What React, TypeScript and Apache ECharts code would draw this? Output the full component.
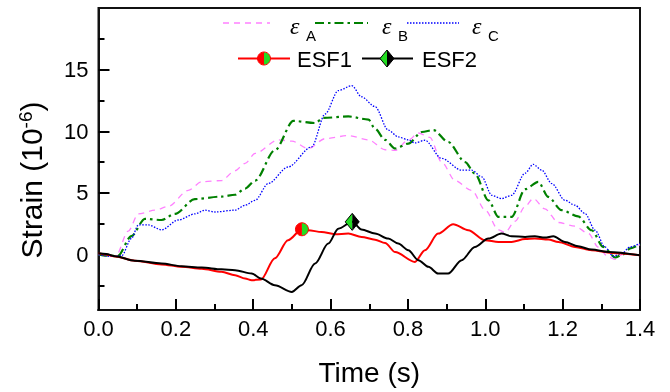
import React, { useEffect, useRef } from "react";
import * as echarts from "echarts";

// ε_A (pink dashed)
const timeA = [0, 0.02, 0.045, 0.077, 0.103, 0.146, 0.18, 0.232, 0.267, 0.318, 0.353, 0.379, 0.405, 0.465, 0.5, 0.542, 0.586, 0.646, 0.698, 0.741, 0.767, 0.801, 0.827, 0.857, 0.887, 0.922, 0.965, 1.0, 1.034, 1.051, 1.077, 1.103, 1.124, 1.154, 1.189, 1.232, 1.267, 1.292, 1.318, 1.336, 1.353, 1.375, 1.4];
const strainA = [0, -0.1, -0.1, 1.9, 3.3, 3.6, 3.9, 5.2, 5.9, 6.0, 6.8, 7.4, 8.2, 9.3, 9.2, 8.6, 9.4, 9.65, 9.3, 8.5, 8.45, 9.27, 9.86, 9.5, 7.5, 6.0, 5.2, 3.6, 2.0, 1.8, 2.7, 3.9, 4.55, 3.7, 2.6, 2.3, 1.7, 0.6, -0.2, -0.4, 0.0, 0.5, 0.8];

// ε_B (green dash-dot)
const timeB = [0, 0.02, 0.05, 0.085, 0.12, 0.163, 0.198, 0.249, 0.318, 0.353, 0.379, 0.405, 0.456, 0.504, 0.56, 0.581, 0.646, 0.698, 0.715, 0.741, 0.767, 0.801, 0.836, 0.866, 0.904, 0.948, 0.973, 1.008, 1.034, 1.068, 1.103, 1.137, 1.163, 1.197, 1.24, 1.275, 1.305, 1.336, 1.355, 1.375, 1.4];
const strainB = [0, -0.1, -0.1, 1.5, 2.9, 2.8, 3.3, 4.5, 4.7, 4.85, 5.35, 6.0, 8.46, 10.84, 10.67, 11.08, 11.2, 10.95, 10.2, 9.3, 8.6, 9.0, 9.94, 10.1, 9.13, 7.5, 6.57, 4.4, 3.05, 3.05, 5.3, 5.9, 4.67, 3.6, 3.1, 1.97, 0.62, -0.24, 0.0, 0.5, 0.85];

// ε_C (blue dotted)
const timeC = [0, 0.03, 0.06, 0.085, 0.103, 0.129, 0.163, 0.206, 0.25, 0.275, 0.301, 0.353, 0.379, 0.405, 0.439, 0.49, 0.551, 0.586, 0.62, 0.655, 0.68, 0.715, 0.749, 0.775, 0.801, 0.818, 0.844, 0.887, 0.939, 0.965, 0.991, 1.017, 1.042, 1.068, 1.103, 1.124, 1.146, 1.172, 1.206, 1.232, 1.258, 1.284, 1.309, 1.331, 1.353, 1.374, 1.4];
const strainC = [0, -0.15, -0.1, 1.3, 2.4, 2.4, 2.0, 2.8, 3.3, 3.6, 3.45, 3.6, 4.0, 4.4, 5.76, 7.1, 8.73, 11.4, 13.3, 13.7, 12.8, 12.0, 10.1, 9.54, 9.3, 9.05, 9.27, 7.8, 6.84, 6.84, 6.3, 4.8, 4.54, 4.8, 6.6, 7.32, 6.84, 5.76, 4.4, 4.0, 3.32, 1.97, 0.62, -0.14, 0.08, 0.62, 0.9];

// ESF1 (red solid)
const timeESF1 = [0, 0.02, 0.043, 0.094, 0.163, 0.215, 0.267, 0.318, 0.353, 0.379, 0.396, 0.42, 0.456, 0.49, 0.526, 0.542, 0.577, 0.611, 0.646, 0.68, 0.715, 0.741, 0.767, 0.818, 0.844, 0.878, 0.917, 0.956, 0.999, 1.034, 1.068, 1.103, 1.128, 1.163, 1.189, 1.232, 1.275, 1.327, 1.4];
const strainESF1 = [0.1, 0.0, -0.15, -0.5, -0.8, -1.0, -1.15, -1.4, -1.68, -1.95, -2.08, -2.03, -0.3, 1.16, 2.05, 1.97, 1.83, 1.65, 1.7, 1.43, 1.2, 0.94, 0.2, -0.6, 0.35, 1.7, 2.46, 1.97, 1.16, 1.02, 1.02, 1.25, 1.3, 1.22, 1.02, 0.62, 0.35, 0.13, -0.06];

// ESF2 (black solid)
const timeESF2 = [0, 0.02, 0.043, 0.094, 0.163, 0.215, 0.267, 0.318, 0.353, 0.396, 0.42, 0.456, 0.5, 0.525, 0.56, 0.594, 0.62, 0.656, 0.68, 0.715, 0.749, 0.775, 0.801, 0.827, 0.853, 0.878, 0.904, 0.939, 0.973, 1.008, 1.042, 1.068, 1.103, 1.128, 1.154, 1.176, 1.206, 1.24, 1.275, 1.318, 1.4];
const strainESF2 = [0.1, 0.05, -0.14, -0.5, -0.73, -0.95, -1.06, -1.2, -1.27, -1.54, -1.95, -2.49, -3.03, -2.49, -0.73, 0.89, 2.1, 2.65, 2.03, 1.7, 1.3, 0.89, 0.35, -0.46, -1.0, -1.54, -1.54, -0.46, 0.62, 1.3, 1.7, 1.48, 1.43, 1.48, 1.38, 1.48, 1.02, 0.67, 0.4, 0.21, -0.06];

// Highlighted points: [time, strain, kind] (0 = ESF1 circle, 1 = ESF2 diamond)
const markerPoints = [
  [0.526, 2.05, 0],
  [0.656, 2.65, 1],
];

const xMajorValues = [0, 0.2, 0.4, 0.6, 0.8, 1.0, 1.2, 1.4];
const xMinorValues = [0.1, 0.3, 0.5, 0.7, 0.9, 1.1, 1.3];
const yLabelValues = [0, 5, 10, 15];
const yMinorValues = [-2.5, 2.5, 7.5, 12.5, 17.5];

const PINK = "#FF80FF";
const GREEN_DARK = "#008000";
const BLUE = "#0000FF";
const RED = "#FF0000";
const BLACK = "#000000";
const GREEN_BRIGHT = "#22DD22";
const FONT = "Liberation Sans, Arial, sans-serif";

const X_MIN = 0;
const X_MAX = 1.4;
const Y_MIN = -4.5;
const Y_MAX = 20;

const zip = (t: number[], v: number[]) => t.map((x, i) => [x, v[i]]);

function halfCircle(cx: number, cy: number, r: number) {
  return [
    { type: "sector", shape: { cx, cy, r0: 0, r, startAngle: Math.PI / 2, endAngle: (Math.PI * 3) / 2, clockwise: true }, style: { fill: RED } },
    { type: "sector", shape: { cx, cy, r0: 0, r, startAngle: -Math.PI / 2, endAngle: Math.PI / 2, clockwise: true }, style: { fill: GREEN_BRIGHT } },
    { type: "circle", shape: { cx, cy, r }, style: { fill: "none", stroke: RED, lineWidth: 1 } },
  ];
}

function halfDiamond(cx: number, cy: number, w: number, h: number) {
  return [
    { type: "polygon", shape: { points: [[cx, cy - h], [cx - w, cy], [cx, cy + h]] }, style: { fill: GREEN_BRIGHT } },
    { type: "polygon", shape: { points: [[cx, cy - h], [cx + w, cy], [cx, cy + h]] }, style: { fill: BLACK } },
    { type: "polygon", shape: { points: [[cx, cy - h], [cx + w, cy], [cx, cy + h], [cx - w, cy]] }, style: { fill: "none", stroke: BLACK, lineWidth: 1 } },
  ];
}

function legendEpsilon(x: number, sub: string) {
  return [
    { type: "text", x, y: 26, style: { text: "ε", fontFamily: "Liberation Serif, serif", fontStyle: "italic", fontSize: 24, fill: BLACK, verticalAlign: "middle", align: "left" } },
    { type: "text", x: x + 16, y: 35, style: { text: sub, fontFamily: FONT, fontSize: 15, fill: BLACK, verticalAlign: "middle", align: "left" } },
  ];
}

const frame = { show: true, onZero: false, lineStyle: { color: "#111", width: 2 } };
const tickLine = { color: BLACK, width: 2 };

// An axis that only draws tick marks at the given values
function xTickAxis(values: number[], length: number) {
  return {
    type: "value",
    position: "bottom",
    min: X_MIN,
    max: X_MAX,
    axisLine: frame,
    axisTick: { show: true, inside: true, length, customValues: values, lineStyle: tickLine },
    axisLabel: { show: false },
    splitLine: { show: false },
  };
}

function yTickAxis(values: number[], length: number) {
  return {
    type: "value",
    position: "left",
    min: Y_MIN,
    max: Y_MAX,
    axisLine: frame,
    axisTick: { show: true, inside: true, length, customValues: values, lineStyle: tickLine },
    axisLabel: { show: false },
    splitLine: { show: false },
  };
}

export default function App() {
  const ref = useRef<HTMLDivElement>(null);

  useEffect(() => {
    if (!ref.current) return;
    const chart = echarts.init(ref.current, null, { renderer: "svg" });

    const lineBase = { type: "line", showSymbol: false, smooth: 0.3, smoothMonotone: "x", silent: true };

    chart.setOption({
      animation: false,
      grid: { left: 98.5, right: 30, top: 8, bottom: 82, show: true, borderColor: "#111", borderWidth: 2 },
      xAxis: [
        // data axis, also drawing labels and title
        {
          type: "value",
          position: "bottom",
          min: X_MIN,
          max: X_MAX,
          interval: 0.2,
          name: "Time (s)",
          nameLocation: "middle",
          nameGap: 48,
          nameTextStyle: { fontFamily: FONT, fontSize: 28, color: BLACK },
          axisLine: frame,
          axisTick: { show: false },
          axisLabel: { fontFamily: FONT, fontSize: 22, color: BLACK, margin: 7, formatter: (v: number) => v.toFixed(1) },
          splitLine: { show: false },
        },
        xTickAxis(xMajorValues, 11),
        xTickAxis(xMinorValues, 6),
      ],
      yAxis: [
        {
          type: "value",
          position: "left",
          min: Y_MIN,
          max: Y_MAX,
          axisLine: frame,
          axisTick: { show: false },
          axisLabel: { fontFamily: FONT, fontSize: 22, color: BLACK, margin: 10, customValues: yLabelValues },
          splitLine: { show: false },
        },
        yTickAxis(yLabelValues, 11),
        yTickAxis(yMinorValues, 6),
      ],
      series: [
        { ...lineBase, name: "εA", data: zip(timeA, strainA), lineStyle: { color: PINK, width: 1.3, type: [6, 5] } },
        { ...lineBase, name: "εB", data: zip(timeB, strainB), lineStyle: { color: GREEN_DARK, width: 2.2, type: [9, 4, 2.5, 4] } },
        { ...lineBase, name: "εC", data: zip(timeC, strainC), lineStyle: { color: BLUE, width: 1.3, type: [1.5, 1.5] } },
        { ...lineBase, name: "ESF1", data: zip(timeESF1, strainESF1), lineStyle: { color: RED, width: 2 } },
        { ...lineBase, name: "ESF2", data: zip(timeESF2, strainESF2), lineStyle: { color: BLACK, width: 2 } },
        {
          type: "custom",
          name: "markers",
          silent: true,
          z: 10,
          encode: { x: 0, y: 1 },
          data: markerPoints,
          renderItem: (_params: any, api: any) => {
            const [cx, cy] = api.coord([api.value(0), api.value(1)]);
            const children = api.value(2) === 0 ? halfCircle(cx, cy, 6.5) : halfDiamond(cx, cy, 7, 8.5);
            return { type: "group", children };
          },
        },
      ],
      graphic: [
        // y-axis title
        {
          type: "text",
          x: 31,
          y: 180,
          rotation: Math.PI / 2,
          style: {
            text: "Strain (10{sup|-6})",
            fontFamily: FONT,
            fontSize: 30,
            fill: BLACK,
            align: "center",
            verticalAlign: "middle",
            rich: {
              sup: { fontFamily: FONT, fontSize: 19, fill: BLACK, verticalAlign: "top", padding: [0, 0, 12, 0] },
            },
          },
        },
        // legend row 1
        { type: "line", shape: { x1: 223, y1: 23, x2: 270, y2: 23 }, style: { stroke: PINK, lineWidth: 1.3, lineDash: [6, 5] } },
        ...legendEpsilon(290, "A"),
        { type: "line", shape: { x1: 315, y1: 23, x2: 368, y2: 23 }, style: { stroke: GREEN_DARK, lineWidth: 2.2, lineDash: [9, 4, 2.5, 4] } },
        ...legendEpsilon(382, "B"),
        { type: "line", shape: { x1: 407, y1: 23, x2: 459, y2: 23 }, style: { stroke: BLUE, lineWidth: 1.3, lineDash: [1.5, 1.5] } },
        ...legendEpsilon(472, "C"),
        // legend row 2
        { type: "line", shape: { x1: 238, y1: 58.5, x2: 290, y2: 58.5 }, style: { stroke: RED, lineWidth: 2 } },
        ...halfCircle(264, 58.5, 6.5),
        { type: "text", x: 297, y: 59, style: { text: "ESF1", fontFamily: FONT, fontSize: 22, fill: BLACK, verticalAlign: "middle", align: "left" } },
        { type: "line", shape: { x1: 362, y1: 58.5, x2: 413, y2: 58.5 }, style: { stroke: BLACK, lineWidth: 2 } },
        ...halfDiamond(387, 58.5, 7, 8.5),
        { type: "text", x: 422, y: 59, style: { text: "ESF2", fontFamily: FONT, fontSize: 22, fill: BLACK, verticalAlign: "middle", align: "left" } },
      ],
    });

    return () => chart.dispose();
  }, []);

  return <div ref={ref} style={{ position: "fixed", left: 0, top: 0, width: 670, height: 392 }} />;
}
